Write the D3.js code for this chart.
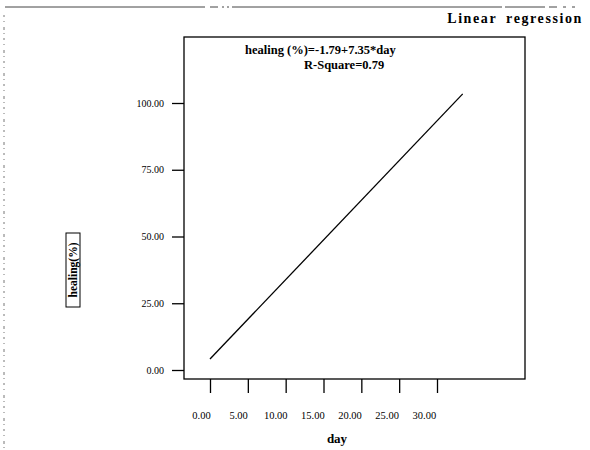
<!DOCTYPE html>
<html>
<head>
<meta charset="utf-8">
<script src="https://cdn.jsdelivr.net/npm/d3@7"></script>
<style>
  body { margin: 0; background: #fff; }
  text { font-family: "Liberation Serif", "DejaVu Serif", serif; fill: #000; }
</style>
</head>
<body>
<section></section>
<script>
//Data
const lineDays = [0, 33.4];
const lineHealing = [4.1, 103.4];
const xTicks = [0, 5, 10, 15, 20, 25, 30];
const yTicks = [0, 25, 50, 75, 100];
const equation = "healing (%)=-1.79+7.35*day";
const rSquare = "R-Square=0.79";

let width = 590;
let height = 450;

let svg = d3
    .select("section")
    .append("svg")
    .attr("width", width)
    .attr("height", height);

//Plot frame
const frame = { left: 184, right: 525, top: 37, bottom: 379 };

//Scales
const x = d3.scaleLinear().domain([0, 30]).range([210, 437]);
const y = d3.scaleLinear().domain([0, 100]).range([370, 103]);

//Scan edges of the page
svg.append("line")
    .attr("x1", 5).attr("x2", 588).attr("y1", 7).attr("y2", 7)
    .attr("stroke", "#444").attr("stroke-width", 1)
    .attr("stroke-dasharray", "200 5 8 4 2 3 2 3 23 0 247 3 40 4 8 6 3 6 3");
svg.append("line")
    .attr("x1", 4).attr("x2", 4).attr("y1", 15).attr("y2", 450)
    .attr("stroke", "#777").attr("stroke-width", 1)
    .attr("stroke-dasharray", "2 4 1 5 3 3 1 4");

//Title
svg.append("text")
    .attr("x", 583).attr("y", 23)
    .attr("text-anchor", "end")
    .attr("font-size", "14px")
    .attr("font-weight", "bold")
    .attr("letter-spacing", "1.6px")
    .attr("word-spacing", "4px")
    .text("Linear regression");

//Frame box
svg.append("rect")
    .attr("x", frame.left).attr("y", frame.top)
    .attr("width", frame.right - frame.left)
    .attr("height", frame.bottom - frame.top)
    .attr("fill", "none")
    .attr("stroke", "#000")
    .attr("stroke-width", 1.3);

//Y axis ticks and labels
const yAxis = svg.append("g").attr("transform", `translate(${frame.left},0)`)
    .call(d3.axisLeft(y).tickValues(yTicks).tickSize(12).tickPadding(8).tickFormat(d3.format(".2f")));
yAxis.select(".domain").remove();
yAxis.selectAll("line").attr("stroke", "#000").attr("stroke-width", 1.3);
yAxis.selectAll("text")
    .attr("font-family", "Liberation Serif")
    .attr("font-size", "10px")
    .attr("fill", "#000");

//X axis ticks and labels
const xAxis = svg.append("g").attr("transform", `translate(0,${frame.bottom})`)
    .call(d3.axisBottom(x).tickValues(xTicks).tickSize(14).tickPadding(19).tickFormat(d3.format(".2f")));
xAxis.select(".domain").remove();
xAxis.selectAll("line").attr("stroke", "#000").attr("stroke-width", 1.3);
xAxis.selectAll("text")
    .attr("font-family", "Liberation Serif")
    .attr("font-size", "10.5px")
    .attr("fill", "#000")
    .attr("dx", (d, i) => -9 - i * 0.7);

//Regression line
const lineData = lineDays.map((d, i) => ({ day: d, healing: lineHealing[i] }));
svg.append("path")
    .datum(lineData)
    .attr("fill", "none")
    .attr("stroke", "#000")
    .attr("stroke-width", 1.3)
    .attr("d", d3.line().x(d => x(d.day)).y(d => y(d.healing)));

//Equation text
svg.append("text")
    .attr("x", 245).attr("y", 54)
    .attr("font-size", "12.5px")
    .attr("font-weight", "bold")
    .text(equation);
svg.append("text")
    .attr("x", 304).attr("y", 69)
    .attr("font-size", "12.5px")
    .attr("font-weight", "bold")
    .text(rSquare);

//Y axis title in a box
svg.append("rect")
    .attr("x", 66).attr("y", 233)
    .attr("width", 14).attr("height", 74)
    .attr("fill", "none")
    .attr("stroke", "#000")
    .attr("stroke-width", 1);
svg.append("text")
    .attr("transform", "translate(77,270) rotate(-90)")
    .attr("text-anchor", "middle")
    .attr("font-size", "11.5px")
    .attr("font-weight", "bold")
    .text("healing(%)");

//X axis title
svg.append("text")
    .attr("x", 337).attr("y", 443)
    .attr("text-anchor", "middle")
    .attr("font-size", "13px")
    .attr("font-weight", "bold")
    .text("day");
</script>
</body>
</html>
